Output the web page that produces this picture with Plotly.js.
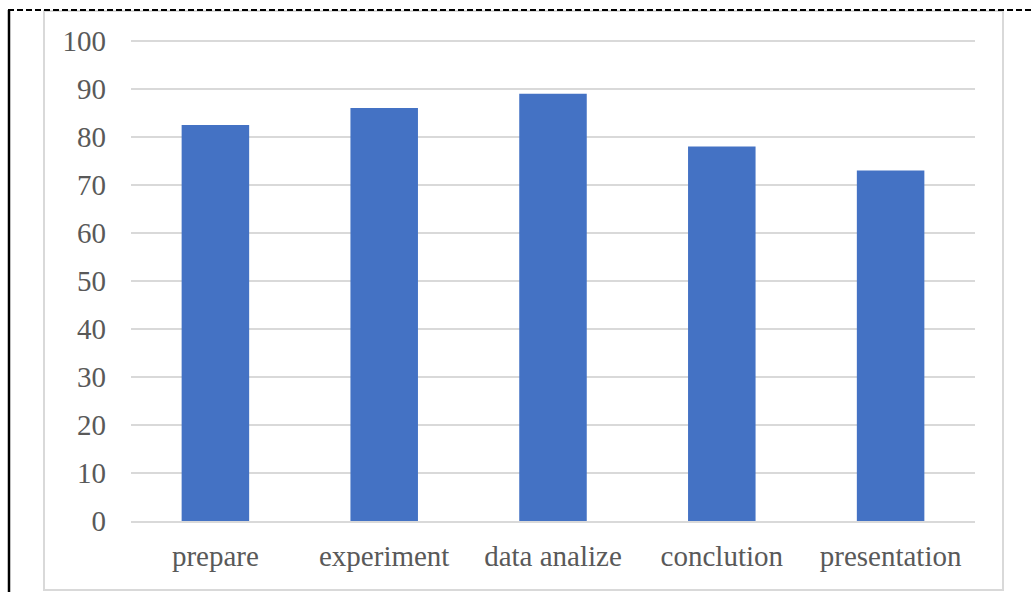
<!DOCTYPE html>
<html>
<head>
<meta charset="utf-8">
<script src="https://cdn.plot.ly/plotly-3.0.1.min.js"></script>
<style>html,body{margin:0;padding:0;background:#fff;}#chart{width:1034px;height:592px;}</style>
</head>
<body>
<div id="chart"></div>
<script>
const categories = ["prepare", "experiment", "data analize", "conclution", "presentation"];
const scores = [82.5, 86, 89, 78, 73];
const yTicks = [0, 10, 20, 30, 40, 50, 60, 70, 80, 90, 100];

const W = 1034, H = 592, L = 131, R = 59, T = 38, B = 71;
const pw = W - L - R, ph = H - T - B;
const px = v => (v - L) / pw;
const py = v => (H - B - v) / ph;

const trace = {
  type: "bar",
  x: categories,
  y: scores,
  width: 0.4,
  marker: {color: "#4472C4"},
  hoverinfo: "x+y"
};

const layout = {
  width: W, height: H,
  margin: {l: L, r: R, t: T, b: B},
  paper_bgcolor: "#fff",
  plot_bgcolor: "#fff",
  showlegend: false,
  font: {family: "Liberation Serif, Times New Roman, serif", size: 29, color: "#595959"},
  xaxis: {
    type: "category",
    showgrid: false,
    showline: true,
    linecolor: "#d9d9d9",
    linewidth: 1.5,
    ticks: "",
    ticklabelstandoff: 9,
    tickfont: {size: 29, color: "#595959"}
  },
  yaxis: {
    range: [0, 100.6],
    tickvals: yTicks,
    ticktext: yTicks.map(String),
    showgrid: true,
    gridcolor: "#d9d9d9",
    gridwidth: 1.5,
    zeroline: false,
    showline: false,
    ticks: "",
    ticklabelstandoff: 24,
    tickfont: {size: 29, color: "#595959"}
  },
  shapes: [
    {type: "rect", xref: "paper", yref: "paper",
     x0: px(44), x1: px(1003), y0: py(590), y1: py(11),
     line: {color: "#d9d9d9", width: 2}, fillcolor: "rgba(0,0,0,0)", layer: "below"},
    {type: "line", xref: "paper", yref: "paper",
     x0: px(8), x1: px(1034), y0: py(10), y1: py(10),
     line: {color: "#000", width: 2, dash: "6px,3px"}},
    {type: "line", xref: "paper", yref: "paper",
     x0: px(9), x1: px(9), y0: py(10), y1: py(592),
     line: {color: "#000", width: 2.5}}
  ]
};

Plotly.newPlot("chart", [trace], layout, {displayModeBar: false, staticPlot: true});
</script>
</body>
</html>
